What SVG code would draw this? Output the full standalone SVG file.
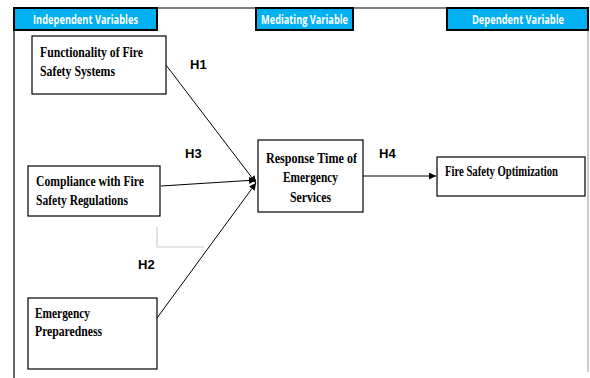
<svg xmlns="http://www.w3.org/2000/svg" width="590" height="378" viewBox="0 0 590 378">
<style>
.hdr{fill:#00B0F0;stroke:#000;stroke-width:2}
.ht{font-family:"Open Sans","Liberation Sans",sans-serif;font-weight:bold;font-size:12px;fill:#fff}
.box{fill:#fff;stroke:#000;stroke-width:1.2}
.nt{font-family:"Liberation Serif",serif;font-weight:bold;font-size:15px;fill:#000}
.hl{font-family:"Liberation Sans",sans-serif;font-weight:bold;font-size:13px;fill:#000}
.ln{stroke:#000;stroke-width:1;fill:none}
</style>
<defs>
<marker id="ah" viewBox="0 0 10 10" refX="10" refY="5" markerWidth="7" markerHeight="7" markerUnits="userSpaceOnUse" orient="auto">
<path d="M0,0 L10,5 L0,10 Z" fill="#000"/>
</marker>
</defs>
<rect width="590" height="378" fill="#fff"/>
<g id="frame">
<line x1="14" y1="8" x2="588" y2="8" stroke="#000" stroke-width="1.2"/>
<line x1="14" y1="8" x2="14" y2="378" stroke="#000" stroke-width="1.2"/>
<line x1="588" y1="8" x2="588" y2="372" stroke="#999" stroke-width="1"/>
<polyline points="157,227 157,247 204,247" fill="none" stroke="#ccc" stroke-width="1.2"/>
</g>
<g id="header-independent">
<rect class="hdr" x="14" y="8" width="143" height="22"/>
<text class="ht" x="85.5" y="24" text-anchor="middle" textLength="105" lengthAdjust="spacingAndGlyphs">Independent Variables</text>
</g>
<g id="header-mediating">
<rect class="hdr" x="256" y="8" width="97" height="22"/>
<text class="ht" x="304.5" y="24" text-anchor="middle" textLength="87" lengthAdjust="spacingAndGlyphs">Mediating Variable</text>
</g>
<g id="header-dependent">
<rect class="hdr" x="447" y="8" width="141" height="22"/>
<text class="ht" x="518" y="24" text-anchor="middle" textLength="92" lengthAdjust="spacingAndGlyphs">Dependent Variable</text>
</g>
<g id="connectors">
<line class="ln" x1="166" y1="65" x2="256" y2="183" marker-end="url(#ah)"/>
<line class="ln" x1="161" y1="186" x2="256" y2="180" marker-end="url(#ah)"/>
<line class="ln" x1="157" y1="318" x2="256" y2="183" marker-end="url(#ah)"/>
<line class="ln" x1="363" y1="176" x2="436" y2="176" marker-end="url(#ah)"/>
<text class="hl" x="190" y="69">H1</text>
<text class="hl" x="185" y="158">H3</text>
<text class="hl" x="138" y="269">H2</text>
<text class="hl" x="379" y="158">H4</text>
</g>
<g id="node-functionality">
<rect class="box" x="32" y="36" width="134" height="58"/>
<text class="nt" x="40" y="57" textLength="103" lengthAdjust="spacingAndGlyphs">Functionality  of Fire</text>
<text class="nt" x="40" y="76" textLength="75" lengthAdjust="spacingAndGlyphs">Safety Systems</text>
</g>
<g id="node-compliance">
<rect class="box" x="28" y="166" width="132" height="50"/>
<text class="nt" x="36" y="186" textLength="108" lengthAdjust="spacingAndGlyphs">Compliance  with Fire</text>
<text class="nt" x="36" y="205" textLength="92" lengthAdjust="spacingAndGlyphs">Safety Regulations</text>
</g>
<g id="node-preparedness">
<rect class="box" x="28" y="298" width="129" height="71"/>
<text class="nt" x="35" y="318" textLength="55" lengthAdjust="spacingAndGlyphs">Emergency</text>
<text class="nt" x="35" y="336" textLength="67" lengthAdjust="spacingAndGlyphs">Preparedness</text>
</g>
<g id="node-response">
<rect class="box" x="258" y="140" width="105" height="72"/>
<text class="nt" x="311.5" y="163" text-anchor="middle" textLength="91" lengthAdjust="spacingAndGlyphs">Response Time of</text>
<text class="nt" x="310.5" y="182" text-anchor="middle" textLength="55" lengthAdjust="spacingAndGlyphs">Emergency</text>
<text class="nt" x="310.5" y="202" text-anchor="middle" textLength="41" lengthAdjust="spacingAndGlyphs">Services</text>
</g>
<g id="node-optimization">
<rect class="box" x="437" y="157" width="148" height="39"/>
<text class="nt" x="445" y="176" textLength="113" lengthAdjust="spacingAndGlyphs">Fire Safety Optimization</text>
</g>
</svg>
